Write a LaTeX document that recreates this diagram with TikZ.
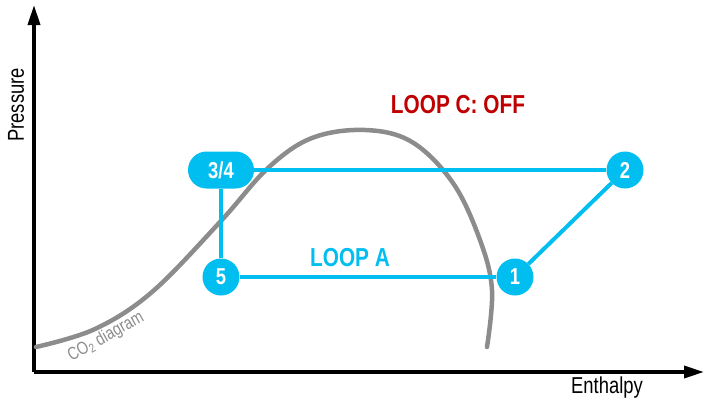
\documentclass[tikz,border=0pt]{standalone}
\usepackage{fontspec}
\setmainfont{Liberation Sans}[FakeStretch=0.8]
\usepackage{tikz}
\usetikzlibrary{arrows.meta}
\definecolor{loopblue}{RGB}{0,190,240}
\definecolor{loopred}{RGB}{192,0,0}
\definecolor{cogray}{RGB}{140,140,140}

\begin{document}
\begin{tikzpicture}[x=1pt,y=-1pt,>={Triangle[length=20pt,width=12pt]},
  state node/.style={circle,fill=loopblue,text=white,inner sep=0pt,
    minimum size=37pt,font=\fontsize{23}{23}\selectfont\bfseries},
  pair node/.style={state node,rectangle,rounded corners=18.5pt,minimum width=66pt},
  axis label/.style={font=\fontsize{23}{23}\selectfont},
  loop label/.style={font=\fontsize{26}{26}\selectfont\bfseries}]

  \useasboundingbox (0,0) rectangle (705,408);

  % axes
  \coordinate (o) at (34,372);
  \draw[line width=3.5pt,->] (o) -- (34,5);
  \draw[line width=3.5pt,->] (o) -- (704,372);
  \node[axis label,rotate=90] (p) at (16,105) {Pressure};
  \node[axis label] (h) at (607,388) {Enthalpy};

  % CO2 dome
  \draw[cogray,line width=4.5pt,line cap=round] plot[smooth,tension=0.6] coordinates
    {(36,347) (95,329) (152,292) (220,222) (268,168) (312,138) (365,130)
     (412,142) (453,183) (480,240) (492,290) (487,347)};
  \node[cogray,font=\fontsize{18}{18}\selectfont,rotate=29,inner sep=0pt] (co) at (106,337) {CO\textsubscript{2} diagram};

  % loop A
  \node[pair node] (34) at (221,170) {3/4};
  \node[state node] (2) at (625,170) {2};
  \node[state node] (1) at (515,277) {1};
  \node[state node] (5) at (221,277) {5};

  \path[draw=loopblue,line width=4pt]
  (34) edge (2)
  edge (5)
  (5) edge (1)
  (1) edge (2);

  \node[loop label,text=loopblue] (la) at (350,258) {LOOP A};
  \node[loop label,text=loopred] (lc) at (458,105) {LOOP C: OFF};
\end{tikzpicture}
\end{document}
